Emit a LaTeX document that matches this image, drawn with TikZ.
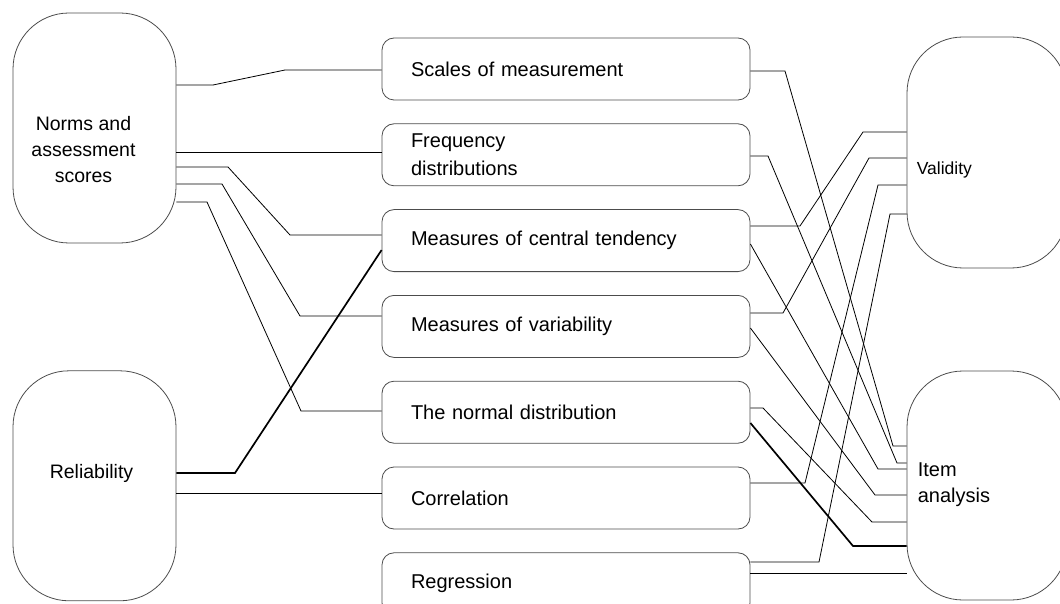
\documentclass[tikz,border=0pt]{standalone}
\usepackage{fontspec}
\setmainfont{Liberation Sans}
\usepackage{tikz}
\usetikzlibrary{positioning}
\tikzset{
bigbox/.style={draw=black!70, line width=0.8pt, rounded corners=56pt}, % the four large boxes
topic/.style={draw=black!70, line width=0.8pt, rounded corners=12pt,
  minimum width=368pt, minimum height=62pt, text width=310pt,
  inner xsep=29pt, inner ysep=0pt, align=left,
  font=\fontsize{20}{28}\selectfont}, % the seven boxes in the middle
bigtxt/.style={inner sep=0pt, font=\fontsize{19.5}{26}\selectfont},
link/.style={line width=0.8pt}, % thin connector
strong/.style={line width=1.7pt}, % the two bold connectors
}
\begin{document}
\begin{tikzpicture}[x=1pt, y=-1pt]%one unit is one pixel of the reference
  \useasboundingbox (0,0) rectangle (1060,604);
  \clip (0,0) rectangle (1060,604);

  % left column
  \node[bigbox, minimum width=163pt, minimum height=230pt] (norms) at (94.5,128) {};
  \node[bigbox, minimum width=163pt, minimum height=230pt, below=127pt of norms] (reliab) {};
  \node[bigtxt, align=center] (normstext) at ([xshift=-11pt,yshift=-22pt]norms.center) {Norms and\\assessment\\scores};
  \node[bigtxt] (reliabtext) at ([xshift=-3pt,yshift=12pt]reliab.center) {Reliability};

  % middle column
  \node[topic] (scales) at (566,69) {Scales of measurement};
  \node[topic, below=23pt of scales] (freq) {Frequency\\distributions};
  \node[topic, below=23pt of freq] (central) {Measures of central tendency};
  \node[topic, below=23pt of central] (variab) {Measures of variability};
  \node[topic, below=23pt of variab] (normal) {The normal distribution};
  \node[topic, below=23pt of normal] (corr) {Correlation};
  \node[topic, below=23pt of corr] (regr) {Regression};

  % right column
  \node[bigbox, minimum width=160pt, minimum height=231pt] (validity) at (987,152.5) {};
  \node[bigbox, minimum width=160pt, minimum height=229pt] (item) at (987,485.5) {};
  \node[bigtxt, font=\fontsize{17.5}{22}\selectfont, right=10pt of validity.west, yshift=-17pt] (validitytext) {Validity};
  \node[bigtxt, font=\fontsize{20}{26}\selectfont, align=left, right=11pt of item.west, yshift=1pt] (itemtext) {Item\\analysis};

  % norms and reliability to the topics
  \draw[link] (norms.east |- 0,85) -- (213,85) -- (285,70) -- (scales.west |- 0,70);
  \draw[link] (norms.east |- 0,152) -- (freq.west |- 0,152);
  \draw[link] (norms.east |- 0,167) -- (228,167) -- (290,235) -- (central.west |- 0,235);
  \draw[link] (norms.east |- 0,184) -- (222,184) -- (300,316) -- (variab.west |- 0,316);
  \draw[link] (norms.east |- 0,202) -- (207,202) -- (301,411) -- (normal.west |- 0,411);
  \draw[strong] (reliab.east |- 0,473) -- (235,473) -- (central.west |- 0,250);
  \draw[link] (reliab.east |- 0,493) -- (corr.west |- 0,493);

  % topics to validity
  \draw[link] (central.east |- 0,226) -- (800,226) -- (863,132) -- (validity.west |- 0,132);
  \draw[link] (variab.east |- 0,313) -- (783,313) -- (869,158) -- (validity.west |- 0,158);
  \draw[link] (corr.east |- 0,483) -- (805,483) -- (878,185) -- (validity.west |- 0,185);
  \draw[link] (regr.east |- 0,562) -- (819,562) -- (890,214) -- (validity.west |- 0,214);

  % topics to item analysis
  \draw[link] (scales.east |- 0,71) -- (785,71) -- (893,446) -- (item.west |- 0,446);
  \draw[link] (freq.east |- 0,156) -- (768,156) -- (897,463) -- (item.west |- 0,463);
  \draw[link] (central.east |- 0,244) -- (878,469) -- (item.west |- 0,469);
  \draw[link] (variab.east |- 0,328) -- (875,495) -- (item.west |- 0,495);
  \draw[link] (normal.east |- 0,408) -- (763,408) -- (872,522) -- (item.west |- 0,522);
  \draw[strong] (normal.east |- 0,423) -- (853,546) -- (item.west |- 0,546);
  \draw[link] (regr.east |- 0,573) -- (item.west |- 0,573);
\end{tikzpicture}
\end{document}
